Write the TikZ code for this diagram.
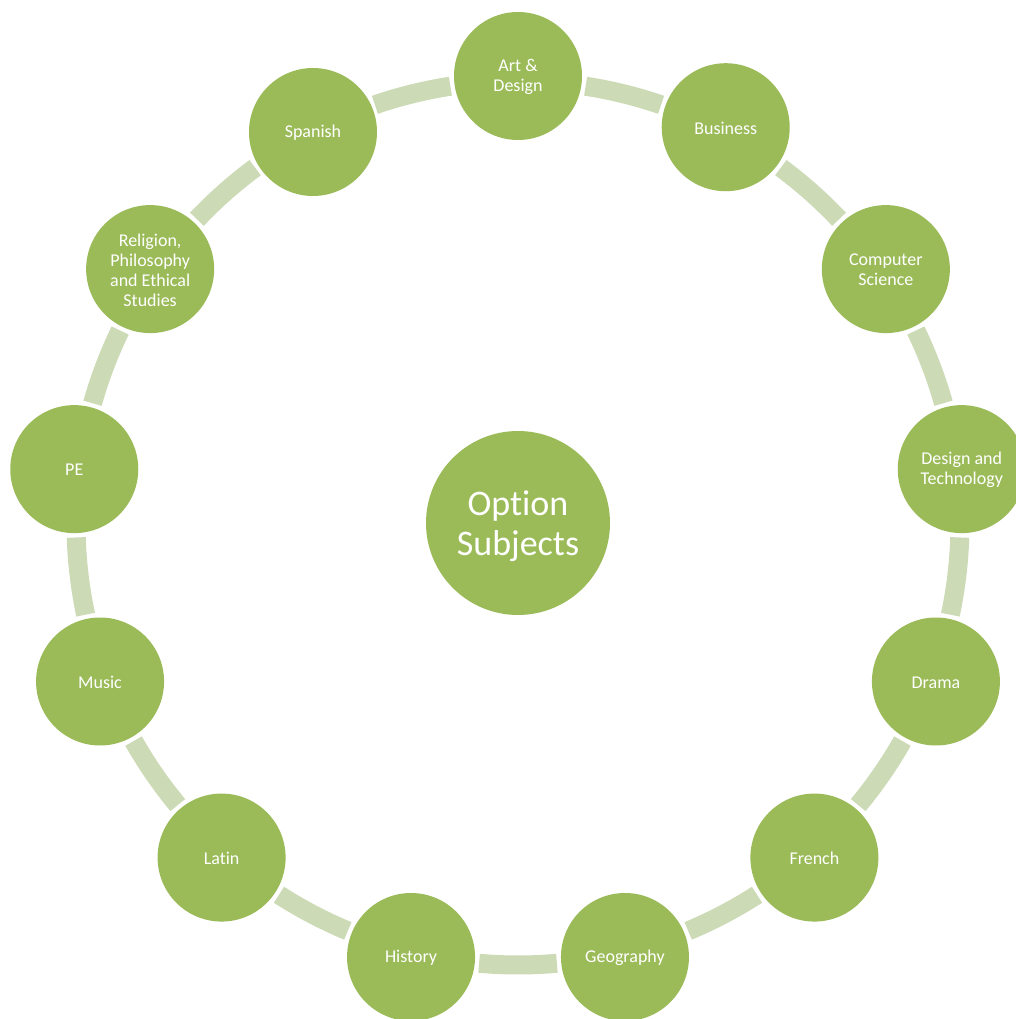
\documentclass[tikz,border=0pt]{standalone}
\usepackage{fontspec}
\setmainfont{Carlito}[Ligatures=NoCommon]
\definecolor{subjgreen}{HTML}{9BBB59}
\definecolor{ringgreen}{HTML}{CCDAB6}
\begin{document}
\begin{tikzpicture}[x=1pt,y=1pt,
  subj/.style={circle, fill=subjgreen, minimum size=128pt, inner sep=0pt},
  subjtext/.style={text=white, align=center, inner sep=0pt, yshift=-1pt,
    font=\fontsize{18}{20}\selectfont},
  hub/.style={circle, fill=subjgreen, minimum size=184pt, inner sep=0pt},
  hubtext/.style={text=white, align=center, inner sep=0pt, yshift=-3pt,
    font=\fontsize{36}{40}\selectfont},
  link/.style={draw=ringgreen, line width=19pt}]
\useasboundingbox (-518,-496) rectangle (498,523);
\coordinate (ringc) at (0,0);
\foreach \i in {0,...,12}{
  \pgfmathsetmacro\a{90-\i*360/13-8.8}
  \pgfmathsetmacro\b{90-(\i+1)*360/13+8.8}
  \draw[link] ([shift={(\a:442)}]ringc) arc[start angle=\a, end angle=\b, radius=442];
}
\node[hub, label={[hubtext]center:Option\\Subjects}] (hub) at (ringc) {};
\foreach \i/\t in {0/{Art \&\\Design}, 1/{Business}, 2/{Computer\\Science},
  3/{Design and\\Technology}, 4/{Drama}, 5/{French}, 6/{Geography},
  7/{History}, 8/{Latin}, 9/{Music}, 10/{PE},
  11/{Religion,\\Philosophy\\and Ethical\\Studies}}
  \node[subj, label={[subjtext]center:\t}] (s\i) at ({90-\i*360/13}:447) {};
\node[subj, label={[subjtext]center:Spanish}] (s12) at (-205,391) {};
\end{tikzpicture}
\end{document}
